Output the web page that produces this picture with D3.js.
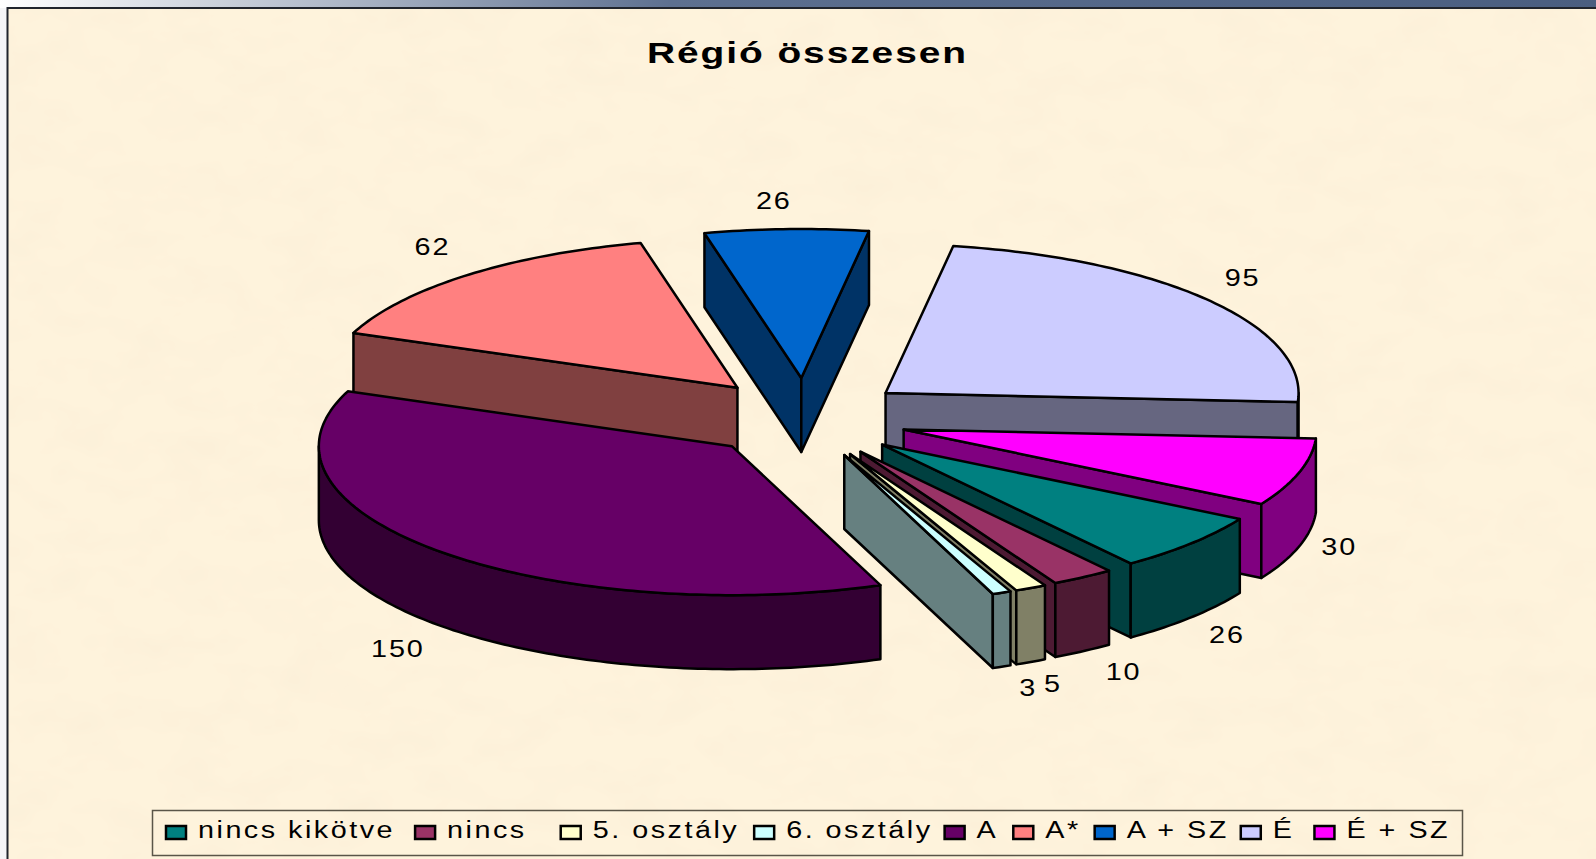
<!DOCTYPE html>
<html>
	<head>
		<title>Régió összesen</title>
		<style>
			body, html {
				margin: 0;
				padding: 0;
				background: #f5f5f7;
				overflow: hidden;
			}

			text {
				font-family: "Liberation Sans", Arial, sans-serif;
				fill: #000;
			}

			.slice path {
				stroke: #000;
				stroke-width: 2.5px;
				stroke-linejoin: round;
			}
		</style>
	</head>
	<body>

		<svg id="svg" width="1596" height="859"></svg>

		<script src="https://d3js.org/d3.v7.min.js"></script>
		<script>
			// Data
			const categories = ['nincs kikötve', 'nincs', '5. osztály', '6. osztály', 'A', 'A*', 'A + SZ', 'É', 'É + SZ']
			const values = [26, 10, 5, 3, 150, 62, 26, 95, 30]
			const colors = ['#008080', '#993366', '#ffffcc', '#ccffff', '#660066', '#ff8080', '#0066cc', '#ccccff', '#ff00ff']
			const chartTitle = 'Régió összesen'

			const width = 1596
			const height = 859

			// Pie geometry, the pie is a flattened disc seen from above
			const cx = 805
			const cy = 418
			const rx = 413
			const ry = 149
			const depth = 74
			const explodeX = 103
			const explodeY = 40
			const labelRx = 562
			const labelRy = 226
			const labelDrop = 63

			// Excel moved these labels by hand, same order as categories
			const labelNudgeX = [1, 16, 2, 9, -8, -4, -11, -2, -4]
			const labelNudgeY = [2, -1, -2, -4, 7, -2, 7, -1, -1]

			// Space after each legend entry, "nincs" had trailing blanks in the source table
			const legendGaps = [19, 33, 14, 11, 14, 13, 11, 19, 0]

			const svg = d3.select('#svg')

			const defs = svg.append('defs')

			// Top bar fades from white into navy
			const grad = defs.append('linearGradient').attr('id', 'bar')
			grad.append('stop').attr('offset', '0%').attr('stop-color', '#ffffff')
			grad.append('stop').attr('offset', '42%').attr('stop-color', '#5d7090')
			grad.append('stop').attr('offset', '100%').attr('stop-color', '#4a5e80')

			// Parchment texture for the chart area
			const paper = defs.append('filter').attr('id', 'paper')
				.attr('x', 0).attr('y', 0).attr('width', '100%').attr('height', '100%')
			paper.append('feTurbulence')
				.attr('type', 'fractalNoise')
				.attr('baseFrequency', '0.018 0.03')
				.attr('numOctaves', 3)
				.attr('seed', 7)
			paper.append('feColorMatrix')
				.attr('values', '0 0 0 0 0.97  0 0 0 0 0.87  0 0 0 0 0.69  1.8 0 0 0 -0.72')
			paper.append('feComposite').attr('in2', 'SourceGraphic').attr('operator', 'over')

			svg.append('rect')
				.attr('width', width).attr('height', 8)
				.attr('fill', 'url(#bar)')

			svg.append('rect')
				.attr('x', 7).attr('y', 8)
				.attr('width', width).attr('height', height)
				.attr('fill', '#fef3dc')
				.attr('filter', 'url(#paper)')

			// Frame, left and top only
			svg.append('path')
				.attr('d', `M7.5,${height}V8H${width}`)
				.attr('fill', 'none')
				.attr('stroke', '#20242c')
				.attr('stroke-width', 2)

			svg.append('text')
				.attr('x', 807.5)
				.attr('y', 63)
				.attr('text-anchor', 'middle')
				.attr('font-size', 30)
				.attr('font-weight', 'bold')
				.attr('letter-spacing', 1.5)
				.attr('textLength', 321)
				.attr('lengthAdjust', 'spacingAndGlyphs')
				.text(chartTitle)

			// Angles, clockwise from 12 o'clock, first slice at 120 degrees
			const rad = Math.PI / 180
			const pie = d3.pie()
				.sort(null)
				.startAngle(120 * rad)
				.endAngle(480 * rad)

			const arcs = pie(values).map((d, i) => {
				const mid = (d.startAngle + d.endAngle) / 2
				return {
					...d,
					mid,
					color: colors[i],
					ox: cx + explodeX * Math.sin(mid),
					oy: cy - explodeY * Math.cos(mid),
					nudgeX: labelNudgeX[i],
					nudgeY: labelNudgeY[i]
				}
			})

			const line = d3.line()

			// Point on the rim of a slice
			function rim(d, a, drop = 0) {
				return [d.ox + rx * Math.sin(a), d.oy - ry * Math.cos(a) + drop]
			}

			function arcPoints(a0, a1, d, drop) {
				const n = Math.max(2, Math.ceil((a1 - a0) / rad))
				return d3.range(n + 1).map(k => rim(d, a0 + (a1 - a0) * k / n, drop))
			}

			// Cut faces, empty when the face points away from the viewer
			function edgeFace(d, a, side) {
				if (side * Math.sin(a) <= 0) return ''
				return line([[d.ox, d.oy], rim(d, a), rim(d, a, depth), [d.ox, d.oy + depth]]) + 'Z'
			}

			// The wall only shows on the front half of the disc
			function wall(d) {
				const spans = [[90 * rad, 270 * rad], [450 * rad, 630 * rad]]
				return spans.map(s => {
					const a0 = Math.max(d.startAngle, s[0])
					const a1 = Math.min(d.endAngle, s[1])
					if (a1 <= a0) return ''
					const top = arcPoints(a0, a1, d, 0)
					const bottom = arcPoints(a0, a1, d, depth).reverse()
					return line(top.concat(bottom)) + 'Z'
				}).join('')
			}

			function half(c) {
				const o = d3.rgb(c)
				return d3.rgb(o.r / 2, o.g / 2, o.b / 2).formatHex()
			}

			// Paint back to front
			const ordered = arcs.slice().sort((a, b) => d3.ascending(a.oy, b.oy))

			const slice = svg.selectAll('.slice')
				.data(ordered)
				.enter().append('g')
				.attr('class', 'slice')

			slice.append('path').attr('fill', d => half(d.color)).attr('d', d => edgeFace(d, d.startAngle, -1))
			slice.append('path').attr('fill', d => half(d.color)).attr('d', d => edgeFace(d, d.endAngle, 1))
			slice.append('path').attr('fill', d => half(d.color)).attr('d', wall)
			slice.append('path')
				.attr('fill', d => d.color)
				.attr('d', d => line([[d.ox, d.oy]].concat(arcPoints(d.startAngle, d.endAngle, d, 0))) + 'Z')

			// Value labels
			svg.selectAll('.value')
				.data(arcs)
				.enter().append('text')
				.attr('class', 'value')
				.attr('text-anchor', 'middle')
				.attr('font-size', 24)
				.attr('letter-spacing', 1.5)
				.attr('x', d => cx + labelRx * Math.sin(d.mid) + d.nudgeX)
				.attr('y', d => cy + 1 - labelRy * Math.cos(d.mid) + (Math.cos(d.mid) < 0 ? labelDrop : 0) + 9 + d.nudgeY)
				.text(d => d.value)
				.each(function () {
					const w = this.getComputedTextLength() * 1.2
					d3.select(this).attr('textLength', w).attr('lengthAdjust', 'spacingAndGlyphs')
				})

			// Legend
			const legend = svg.append('g')
			legend.append('rect')
				.attr('x', 152.5).attr('y', 810.5)
				.attr('width', 1310).attr('height', 45)
				.attr('fill', 'none')
				.attr('stroke', '#5a5548')
				.attr('stroke-width', 1.5)

			let legendX = 165
			categories.forEach((name, i) => {
				legend.append('rect')
					.attr('x', legendX + 1).attr('y', 826)
					.attr('width', 20).attr('height', 13)
					.attr('fill', colors[i])
					.attr('stroke', '#000')
					.attr('stroke-width', 2.5)
				const label = legend.append('text')
					.attr('x', legendX + 33)
					.attr('y', 838)
					.attr('font-size', 23)
					.attr('letter-spacing', 2)
					.text(name)
				const w = label.node().getComputedTextLength() * 1.25
				label.attr('textLength', w).attr('lengthAdjust', 'spacingAndGlyphs')
				legendX += 33 + w + legendGaps[i]
			})
		</script>
	</body>
</html>
